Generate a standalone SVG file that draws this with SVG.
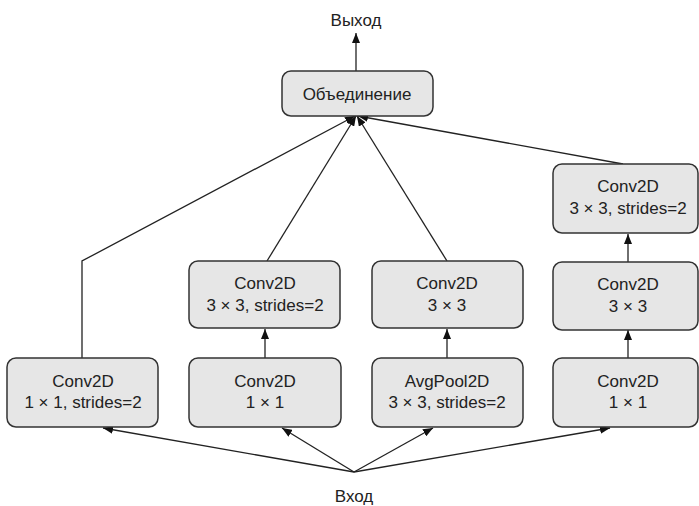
<svg xmlns="http://www.w3.org/2000/svg" width="699" height="506" viewBox="0 0 699 506">
<defs>
<style>
.box{fill:#e6e6e6;stroke:#333;stroke-width:1.5}
.t{font-family:"Liberation Sans",Arial,sans-serif;font-size:17px;fill:#222;text-anchor:middle}
.c{fill:none;stroke:#222;stroke-width:1.3}
</style>
<marker id="ah" viewBox="0 0 10 8" refX="10" refY="4" markerWidth="10" markerHeight="8" markerUnits="userSpaceOnUse" orient="auto">
<path d="M0,0 L10,4 L0,8 Z" fill="#111"/>
</marker>
</defs>
<g id="connectors">
<line class="c" x1="356" y1="71" x2="356" y2="33" marker-end="url(#ah)"/>
<polyline class="c" points="82,358 82,261 355,116" marker-end="url(#ah)"/>
<line class="c" x1="267" y1="261" x2="356" y2="116" marker-end="url(#ah)"/>
<line class="c" x1="447" y1="261" x2="357" y2="116" marker-end="url(#ah)"/>
<line class="c" x1="623" y1="164" x2="358" y2="116" marker-end="url(#ah)"/>
<line class="c" x1="265" y1="358" x2="265" y2="329" marker-end="url(#ah)"/>
<line class="c" x1="447" y1="358" x2="447" y2="329" marker-end="url(#ah)"/>
<line class="c" x1="628" y1="358" x2="628" y2="330" marker-end="url(#ah)"/>
<line class="c" x1="628" y1="262" x2="628" y2="234" marker-end="url(#ah)"/>
<line class="c" x1="354" y1="472" x2="103" y2="428" marker-end="url(#ah)"/>
<line class="c" x1="354" y1="472" x2="282" y2="428" marker-end="url(#ah)"/>
<line class="c" x1="354" y1="472" x2="433" y2="428" marker-end="url(#ah)"/>
<line class="c" x1="354" y1="472" x2="610" y2="428" marker-end="url(#ah)"/>
</g>
<g id="output"><text class="t" x="356" y="26">Выход</text></g>
<g id="input"><text class="t" x="354" y="502">Вход</text></g>
<g id="concat">
<rect class="box" x="282" y="71" width="151" height="45" rx="9"/>
<text class="t" x="357" y="100">Объединение</text>
</g>
<g id="b1">
<rect class="box" x="7" y="358" width="151" height="69" rx="9"/>
<text class="t" x="83" y="387">Conv2D</text>
<text class="t" x="83" y="408">1 × 1, strides=2</text>
</g>
<g id="b2">
<rect class="box" x="189" y="358" width="152" height="69" rx="9"/>
<text class="t" x="265" y="387">Conv2D</text>
<text class="t" x="265" y="408">1 × 1</text>
</g>
<g id="b3">
<rect class="box" x="372" y="358" width="151" height="69" rx="9"/>
<text class="t" x="447" y="387">AvgPool2D</text>
<text class="t" x="447" y="408">3 × 3, strides=2</text>
</g>
<g id="b4">
<rect class="box" x="553" y="358" width="145" height="69" rx="9"/>
<text class="t" x="628" y="387">Conv2D</text>
<text class="t" x="628" y="408">1 × 1</text>
</g>
<g id="m2">
<rect class="box" x="189" y="261" width="151" height="67" rx="9"/>
<text class="t" x="265" y="289">Conv2D</text>
<text class="t" x="265" y="311">3 × 3, strides=2</text>
</g>
<g id="m3">
<rect class="box" x="372" y="261" width="151" height="67" rx="9"/>
<text class="t" x="447" y="289">Conv2D</text>
<text class="t" x="447" y="311">3 × 3</text>
</g>
<g id="m4">
<rect class="box" x="553" y="262" width="145" height="68" rx="9"/>
<text class="t" x="628" y="290">Conv2D</text>
<text class="t" x="628" y="312">3 × 3</text>
</g>
<g id="t4">
<rect class="box" x="553" y="164" width="145" height="69" rx="9"/>
<text class="t" x="628" y="192">Conv2D</text>
<text class="t" x="628" y="214">3 × 3, strides=2</text>
</g>
</svg>
